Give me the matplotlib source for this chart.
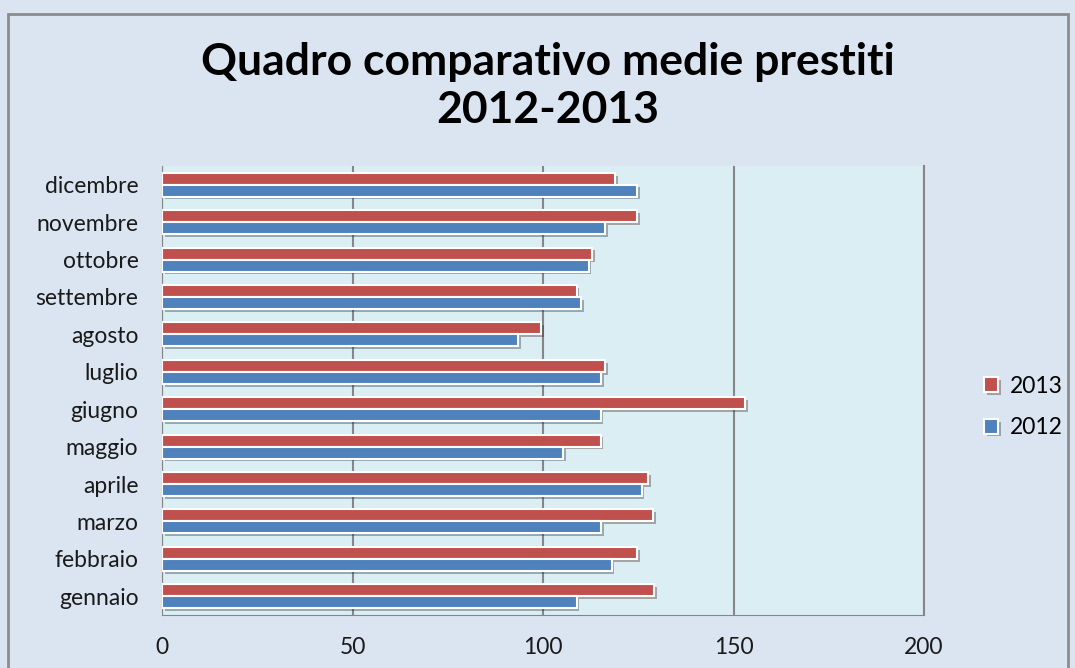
import matplotlib.pyplot as plt
import matplotlib.patheffects as pe
from matplotlib.patches import Rectangle
import numpy as np

plt.rcParams['font.family'] = ['Lato', 'DejaVu Sans']

mesi = ["gennaio", "febbraio", "marzo", "aprile", "maggio", "giugno",
        "luglio", "agosto", "settembre", "ottobre", "novembre", "dicembre"]
val_2012 = [108.8, 118.0, 115.3, 125.9, 105.2, 115.1, 115.3, 93.5, 110.1, 112.0, 116.4, 124.8]
val_2013 = [129.1, 124.8, 128.8, 127.5, 115.1, 153.1, 116.4, 99.6, 108.8, 112.9, 124.8, 119.0]

fig = plt.figure(figsize=(10.75, 6.68), dpi=100)
fig.patch.set_facecolor('#DBE5F1')

# cornice esterna
fig.patches.append(Rectangle((8 / 1075, -0.05), 1060 / 1075, 1 - 14 / 668 + 0.05,
                             transform=fig.transFigure, fill=False,
                             edgecolor='#8C8C8C', linewidth=2))

ax = fig.add_axes([162 / 1075, 1 - 615 / 668, (924 - 162) / 1075, (615 - 166) / 668])
ax.set_facecolor('#DAEEF3')

y = np.arange(len(mesi))
h = 0.32
ombra = [pe.SimplePatchShadow(offset=(2, -2), alpha=0.35), pe.Normal()]
b13 = ax.barh(y + h / 2, val_2013, height=h, color='#C0504D', edgecolor='white',
              linewidth=1.5, label='2013', zorder=3)
b12 = ax.barh(y - h / 2, val_2012, height=h, color='#4F81BD', edgecolor='white',
              linewidth=1.5, label='2012', zorder=3)
for b in list(b13) + list(b12):
    b.set_path_effects(ombra)

ax.set_xlim(0, 200)
ax.set_ylim(-0.5, len(mesi) - 0.5)
ax.set_xticks([0, 50, 100, 150, 200])
ax.set_yticks(y)
ax.set_yticklabels(mesi)
ax.tick_params(axis='both', length=0, labelsize=16.5, colors='#1A1A1A')
ax.tick_params(axis='x', pad=16)
ax.tick_params(axis='y', pad=17)
ax.grid(axis='x', color='#868686', linewidth=1.5, zorder=1)
ax.set_axisbelow(True)
ax.spines['top'].set_visible(False)
ax.spines['right'].set_color('#868686')
ax.spines['left'].set_color('#868686')
ax.spines['bottom'].set_color('#868686')
ax.spines['right'].set_linewidth(1.5)

fig.text(548 / 1075, 1 - 86 / 668, "Quadro comparativo medie prestiti\n2012-2013",
         ha='center', va='center', fontsize=32, fontweight='bold', linespacing=1.22)

ax.legend(handles=[b13, b12], loc='center left', bbox_to_anchor=(1.052, 0.463),
          frameon=False, fontsize=16.5, handlelength=0.6, handleheight=0.6,
          labelspacing=0.9, handletextpad=0.5)

fig.savefig('out.png', dpi=100, facecolor=fig.get_facecolor())
